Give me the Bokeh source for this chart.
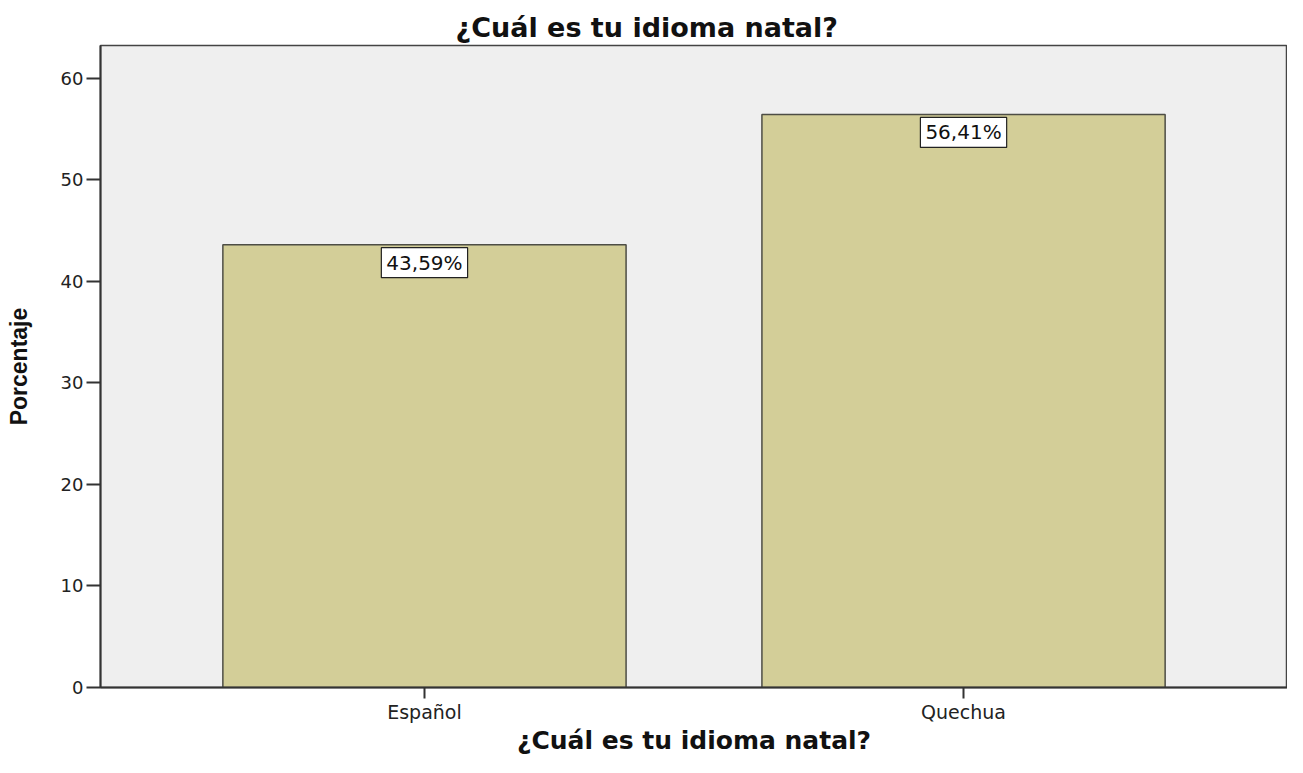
from bokeh.plotting import figure
from bokeh.models import FactorRange, Range1d, FixedTicker, ColumnDataSource
from bokeh.core.properties import value
from bokeh.embed import file_html
from bokeh.resources import INLINE

categories = ["Español", "Quechua"]
percentages = [43.59, 56.41]
label_texts = ["43,59%", "56,41%"]
y_ticks = [0, 10, 20, 30, 40, 50, 60]

src = ColumnDataSource(dict(cat=categories, pct=percentages, lab=label_texts))

p = figure(
    width=1287, height=757,
    x_range=FactorRange(*categories, range_padding=0.101),
    y_range=Range1d(0, 63.2),
    output_backend="svg", toolbar_location=None,
    min_border_left=100, min_border_right=0, min_border_top=45, min_border_bottom=67,
    background_fill_color="#efefef", border_fill_color="white",
)

p.title.text = "¿Cuál es tu idioma natal?"
p.title.align = "left"
p.title.offset = 355
p.title.text_font = "DejaVu Sans"
p.title.text_font_style = "bold"
p.title.text_font_size = "27px"
p.title.text_color = "#111111"
p.title.standoff = 6

p.vbar(x="cat", top="pct", width=0.748, source=src,
       fill_color="#d3ce98", line_color="#4d4d45", line_width=1.5)

p.text(x="cat", y="pct", text="lab", source=src,
       text_align="center", text_baseline="top",
       y_offset=3, padding=dict(left=5, right=5, top=3, bottom=3),
       text_font=value("DejaVu Sans"), text_font_size="20px", text_color="#111111",
       background_fill_color="white", border_line_color="#222222",
       border_line_width=1.2)

p.xgrid.visible = False
p.ygrid.visible = False
p.outline_line_color = "#444444"
p.outline_line_width = 1.5

p.yaxis.ticker = FixedTicker(ticks=y_ticks)
p.yaxis.minor_tick_line_color = None
p.yaxis.major_tick_out = 14
p.yaxis.major_tick_in = 0
p.yaxis.major_label_standoff = 3
p.yaxis.major_label_text_font = "DejaVu Sans"
p.yaxis.major_label_text_font_size = "18px"
p.yaxis.major_label_text_color = "#222222"
p.yaxis.axis_line_color = "#333333"
p.yaxis.axis_line_width = 2
p.yaxis.major_tick_line_color = "#333333"
p.yaxis.major_tick_line_width = 2
p.yaxis.axis_label = "Porcentaje"
p.yaxis.axis_label_text_font = "Liberation Sans"
p.yaxis.axis_label_text_font_style = "bold"
p.yaxis.axis_label_text_font_size = "23px"
p.yaxis.axis_label_text_color = "#111111"
p.yaxis.axis_label_standoff = 26

p.xaxis.major_tick_out = 11
p.xaxis.major_tick_in = 0
p.xaxis.major_label_standoff = 2
p.xaxis.major_label_text_font = "DejaVu Sans"
p.xaxis.major_label_text_font_size = "19px"
p.xaxis.major_label_text_color = "#222222"
p.xaxis.axis_line_color = "#333333"
p.xaxis.axis_line_width = 2
p.xaxis.major_tick_line_color = "#333333"
p.xaxis.major_tick_line_width = 2
p.xaxis.axis_label = "¿Cuál es tu idioma natal?"
p.xaxis.axis_label_text_font = "DejaVu Sans"
p.xaxis.axis_label_text_font_style = "bold"
p.xaxis.axis_label_text_font_size = "25px"
p.xaxis.axis_label_text_color = "#111111"
p.xaxis.axis_label_standoff = 0

open("out.html", "w").write(file_html(p, INLINE))
